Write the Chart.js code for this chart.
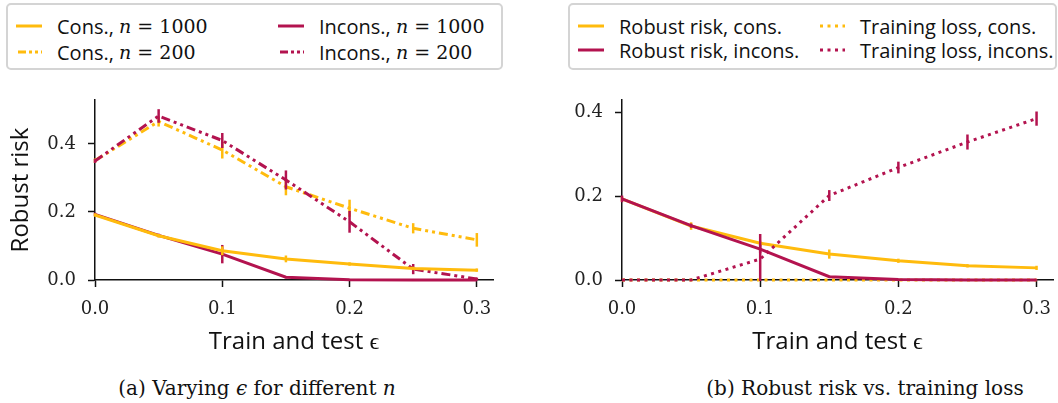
<!DOCTYPE html>
<html>
<head>
<meta charset="utf-8">
<script src="https://cdn.jsdelivr.net/npm/chart.js@4.4.1/dist/chart.umd.min.js"></script>
<style>
  body { margin:0; background:#fff; width:1058px; height:403px; overflow:hidden; position:relative; font-family:'Open Sans',sans-serif; color:#111; }
  canvas { position:absolute; }
  .legend { position:absolute; border:2px solid #d4d4d4; border-radius:5px; box-sizing:border-box; background:#fff; }
  .item { position:absolute; display:flex; align-items:center; font-size:20px; white-space:nowrap; height:24px; }
  .item svg { margin-right:15px; }
  .m { font-family:'DejaVu Serif',serif; font-size:19px; }
  .caption { position:absolute; font-family:'DejaVu Serif',serif; font-size:20px; white-space:nowrap; transform:translateX(-50%); }
</style>
</head>
<body>

<div class="legend" style="left:6px;top:3px;width:497px;height:67px">
  <div class="item" style="left:8px;top:9px"><svg width="26" height="6"><line x1="0" y1="3" x2="26" y2="3" stroke="#FFBB0D" stroke-width="3"/></svg>Cons.,&nbsp;<span class="m"><i>n</i> = 1000</span></div>
  <div class="item" style="left:8px;top:35px"><svg width="26" height="6"><line x1="2" y1="3" x2="26" y2="3" stroke="#FFBB0D" stroke-width="3" stroke-dasharray="8 3 3 3 3 3"/></svg>Cons.,&nbsp;<span class="m"><i>n</i> = 200</span></div>
  <div class="item" style="left:270px;top:9px"><svg width="26" height="6"><line x1="0" y1="3" x2="26" y2="3" stroke="#B3134F" stroke-width="3"/></svg>Incons.,&nbsp;<span class="m"><i>n</i> = 1000</span></div>
  <div class="item" style="left:270px;top:35px"><svg width="26" height="6"><line x1="2" y1="3" x2="26" y2="3" stroke="#B3134F" stroke-width="3" stroke-dasharray="8 3 3 3 3 3"/></svg>Incons.,&nbsp;<span class="m"><i>n</i> = 200</span></div>
</div>

<div class="legend" style="left:568px;top:3px;width:489px;height:67px">
  <div class="item" style="left:8px;top:9px"><svg width="26" height="6"><line x1="0" y1="3" x2="26" y2="3" stroke="#FFBB0D" stroke-width="3"/></svg>Robust risk, cons.</div>
  <div class="item" style="left:8px;top:33px"><svg width="26" height="6"><line x1="0" y1="3" x2="26" y2="3" stroke="#B3134F" stroke-width="3"/></svg>Robust risk, incons.</div>
  <div class="item" style="left:249px;top:9px"><svg width="26" height="6"><line x1="1" y1="3" x2="26" y2="3" stroke="#FFBB0D" stroke-width="3" stroke-dasharray="3 4.5"/></svg>Training loss, cons.</div>
  <div class="item" style="left:249px;top:33px"><svg width="26" height="6"><line x1="1" y1="3" x2="26" y2="3" stroke="#B3134F" stroke-width="3" stroke-dasharray="3 4.5"/></svg>Training loss, incons.</div>
</div>

<canvas id="chartA" width="510" height="270" style="left:0;top:90px"></canvas>
<canvas id="chartB" width="498" height="270" style="left:560px;top:90px"></canvas>

<div class="caption" style="left:257px;top:376px">(a) Varying <i>ϵ</i> for different <i>n</i></div>
<div class="caption" style="left:865px;top:376px">(b) Robust risk vs. training loss</div>

<script>
/* ── data ── */
const EPS = [0, 0.05, 0.1, 0.15, 0.2, 0.25, 0.3];
const X_TICKS = [0, 0.1, 0.2, 0.3];
const Y_TICKS = [0, 0.2, 0.4];

// (a) varying eps for different n
const CONS_1000       = [0.191, 0.130, 0.086, 0.062, 0.047, 0.034, 0.029];
const CONS_1000_ERR   = [0.005, 0.005, 0.013, 0.010, 0.005, 0.005, 0.005];
const INCONS_1000     = [0.193, 0.131, 0.076, 0.008, 0.001, 0.000, 0.000];
const INCONS_1000_ERR = [0.005, 0.005, 0.027, 0.003, 0.001, 0.001, 0.001];
const CONS_200        = [0.351, 0.466, 0.382, 0.274, 0.211, 0.152, 0.118];
const CONS_200_ERR    = [0.006, 0.015, 0.025, 0.025, 0.025, 0.015, 0.020];
const INCONS_200      = [0.350, 0.482, 0.410, 0.294, 0.171, 0.032, 0.003];
const INCONS_200_ERR  = [0.006, 0.020, 0.022, 0.028, 0.032, 0.015, 0.004];

// (b) robust risk vs training loss
const RR_CONS       = [0.194, 0.129, 0.088, 0.062, 0.046, 0.034, 0.029];
const RR_CONS_ERR   = [0.006, 0.009, 0.006, 0.011, 0.005, 0.004, 0.005];
const RR_INCONS     = [0.194, 0.130, 0.074, 0.008, 0.001, 0.000, 0.000];
const RR_INCONS_ERR = [0.008, 0.005, 0.010, 0.002, 0.001, 0.001, 0.001];
const TL_CONS       = [0, 0, 0, 0, 0, 0, 0];
const TL_INCONS     = [0.000, 0.000, 0.050, 0.202, 0.269, 0.330, 0.386];
const TL_INCONS_ERR = [0.000, 0.000, 0.060, 0.013, 0.014, 0.018, 0.017];

const YELLOW = '#FFBB0D';
const CRIMSON = '#B3134F';
const DASHDOTDOT = [9, 4, 3, 4, 3, 4];
const DOTTED = [3, 4.5];

const pts = vals => EPS.map((e, i) => ({ x: e, y: vals[i] }));

/* ── vertical error bars, drawn per dataset ── */
const errorBars = {
  id: 'errorBars',
  afterDatasetDraw(chart, args) {
    const ds = chart.data.datasets[args.index];
    if (!ds.err) return;
    const { ctx, chartArea, scales: { x, y } } = chart;
    ctx.save();
    ctx.beginPath();
    ctx.rect(chartArea.left - 5, chartArea.top, chartArea.width + 10, chartArea.height + 1);
    ctx.clip();
    ctx.strokeStyle = ds.borderColor;
    ctx.lineWidth = 2.5;
    ds.data.forEach((p, j) => {
      const e = ds.err[j];
      if (!e) return;
      const px = x.getPixelForValue(p.x);
      ctx.beginPath();
      ctx.moveTo(px, y.getPixelForValue(p.y - e));
      ctx.lineTo(px, y.getPixelForValue(p.y + e));
      ctx.stroke();
    });
    ctx.restore();
  }
};

function line(vals, err, color, dash, width) {
  return { data: pts(vals), err, borderColor: color, backgroundColor: color, borderDash: dash || [],
           borderWidth: width || 3, pointRadius: 0, tension: 0, clip: 6 };
}

function axisOpts(cfg) {
  const tickFont = { family: 'DejaVu Serif', size: 18 };
  const titleFont = { family: 'Open Sans', size: 24 };
  return {
    x: {
      type: 'linear', min: 0, max: cfg.xMax,
      afterBuildTicks: s => { s.ticks = X_TICKS.map(v => ({ value: v })); },
      afterFit: s => { s.height = 80; s.paddingLeft = 0; s.paddingRight = 0; },
      grid: { display: true, drawOnChartArea: false, drawTicks: true, tickLength: 7, tickWidth: 1.5, tickColor: '#111' },
      border: { display: true, color: '#111', width: 1.5 },
      ticks: { color: '#222', font: tickFont, padding: 12, maxRotation: 0, callback: v => v.toFixed(1) },
      title: { display: true, text: 'Train and test ϵ', color: '#111', font: titleFont, padding: { top: 0, bottom: 3 } }
    },
    y: {
      min: 0, max: cfg.yMax,
      afterBuildTicks: s => { s.ticks = Y_TICKS.map(v => ({ value: v })); },
      afterFit: s => { s.width = cfg.yWidth; s.paddingTop = 0; s.paddingBottom = 0; },
      grid: { display: true, drawOnChartArea: false, drawTicks: true, tickLength: 7, tickWidth: 1.5, tickColor: '#111' },
      border: { display: true, color: '#111', width: 1.5 },
      ticks: { color: '#222', font: tickFont, padding: 12, callback: v => v.toFixed(1) },
      title: { display: !!cfg.yTitle, text: cfg.yTitle || '', color: '#111', font: titleFont, padding: { top: 7, bottom: 0 } }
    }
  };
}

function buildChartA() {
  const ctx = document.getElementById('chartA').getContext('2d');
  new Chart(ctx, {
    type: 'line',
    data: {
      datasets: [
        line(CONS_1000, CONS_1000_ERR, YELLOW),
        line(INCONS_1000, INCONS_1000_ERR, CRIMSON),
        line(INCONS_200, INCONS_200_ERR, CRIMSON, DASHDOTDOT),
        line(CONS_200, CONS_200_ERR, YELLOW, DASHDOTDOT),
      ]
    },
    options: {
      responsive: false, animation: false, devicePixelRatio: 1,
      layout: { padding: { left: 0, right: 17, top: 10, bottom: 0 } },
      plugins: { legend: { display: false }, tooltip: { enabled: false } },
      scales: axisOpts({ xMax: 0.3127, yMax: 0.529, yWidth: 95, yTitle: 'Robust risk' })
    },
    plugins: [errorBars]
  });
}

function buildChartB() {
  const ctx = document.getElementById('chartB').getContext('2d');
  new Chart(ctx, {
    type: 'line',
    data: {
      datasets: [
        line(RR_INCONS, RR_INCONS_ERR, CRIMSON),
        line(TL_INCONS, TL_INCONS_ERR, CRIMSON, DOTTED),
        line(RR_CONS, RR_CONS_ERR, YELLOW),
        line(TL_CONS, null, YELLOW, DOTTED),
      ]
    },
    options: {
      responsive: false, animation: false, devicePixelRatio: 1,
      layout: { padding: { left: 0, right: 5, top: 10, bottom: 0 } },
      plugins: { legend: { display: false }, tooltip: { enabled: false } },
      scales: axisOpts({ xMax: 0.3119, yMax: 0.4305, yWidth: 62 })
    },
    plugins: [errorBars]
  });
}

buildChartA();
buildChartB();
</script>
</body>
</html>
